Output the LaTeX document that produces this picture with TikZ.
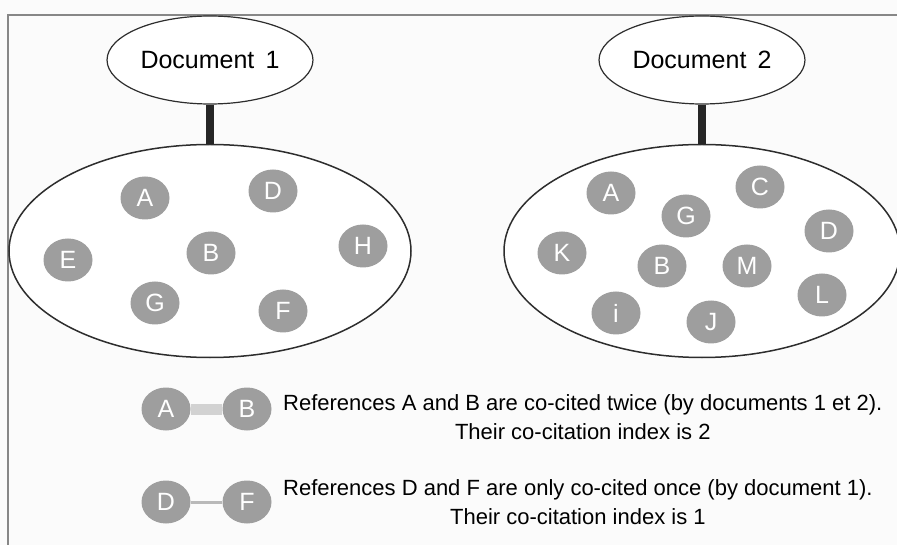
\documentclass[tikz,border=0pt]{standalone}
\usepackage{fontspec}
\setmainfont{Liberation Sans}
\usetikzlibrary{shapes.geometric,positioning}
\definecolor{bggray}{RGB}{251,251,251}
\definecolor{framegray}{RGB}{135,135,135}
\definecolor{refgray}{RGB}{158,158,158}
\definecolor{outline}{RGB}{45,45,45}
\definecolor{twicegray}{RGB}{210,210,210}
\definecolor{oncegray}{RGB}{185,185,185}
\tikzset{
node distance=81pt, % gap between the two circles of a key
ref/.style={ellipse, fill=refgray, text=white, inner sep=0pt,
  minimum width=49pt, minimum height=43pt, font=\fontsize{25}{30}\selectfont}, % a cited reference
doc/.style={ellipse, draw=outline, line width=1.2pt, fill=white,
  minimum width=200pt, minimum height=88pt, font=\fontsize{25}{30}\selectfont}, % a citing document
refset/.style={ellipse, draw=outline, line width=1.5pt, fill=white,
  minimum width=#1, minimum height=213pt}, % its list of references
stem/.style={draw=black!85, line width=8pt},
}
\tikzset{
    keytext/.style={anchor=west, align=center, inner sep=0pt,
         font=\fontsize{22}{29}\selectfont}
}

\begin{document}
\begin{tikzpicture}[x=1pt,y=-1pt,on grid]
   \fill[bggray] (0,0) rectangle (897,545);
   \useasboundingbox (0,0) rectangle (897,545);
   \draw[framegray, line width=1.5pt] (8,545) -- (8,15) -- (897,15);

   % document 1
   \node[doc] (doc1) at (210,60) {Document\ \,1};
   \node[refset=402pt] (set1) at (210,251) {};
   \path[stem] (doc1) edge (set1);
   \node[ref] (d1_a) at (145,198) {A};
   \node[ref] (d1_d) at (273,191) {D};
   \node[ref] (d1_e) at (68,260) {E};
   \node[ref] (d1_b) at (211,253) {B};
   \node[ref] (d1_h) at (363,246) {H};
   \node[ref] (d1_g) at (155,303) {G};
   \node[ref] (d1_f) at (283,311) {F};

   % document 2
   \node[doc] (doc2) at (702,60) {Document\ \,2};
   \node[refset=396pt] (set2) at (702,251) {};
   \path[stem] (doc2) edge (set2);
   \node[ref] (d2_a) at (611,193) {A};
   \node[ref] (d2_c) at (760,187) {C};
   \node[ref] (d2_g) at (686,216) {G};
   \node[ref] (d2_d) at (829,231) {D};
   \node[ref] (d2_k) at (562,253) {K};
   \node[ref] (d2_b) at (662,266) {B};
   \node[ref] (d2_m) at (747,266) {M};
   \node[ref] (d2_l) at (822,295) {L};
   \node[ref] (d2_i) at (616,313) {i};
   \node[ref] (d2_j) at (711,322) {J};

   % key
   \node[ref] (key_a) at (166,409) {A};
   \node[ref] (key_b) [right=of key_a] {B};
   \node[ref] (key_d) at (166,502) {D};
   \node[ref] (key_f) [right=of key_d] {F};
   \path
    (key_a) edge[twicegray, line width=11pt] (key_b)
    (key_d) edge[oncegray, line width=3pt] (key_f);
   \node[keytext] (key_ab) at (283,417) {References A and B are co-cited twice (by documents 1 et 2).\\Their co-citation index is 2};
   \node[keytext] (key_df) at (283,502) {References D and F are only co-cited once (by document 1).\\Their co-citation index is 1};
\end{tikzpicture}
\end{document}
